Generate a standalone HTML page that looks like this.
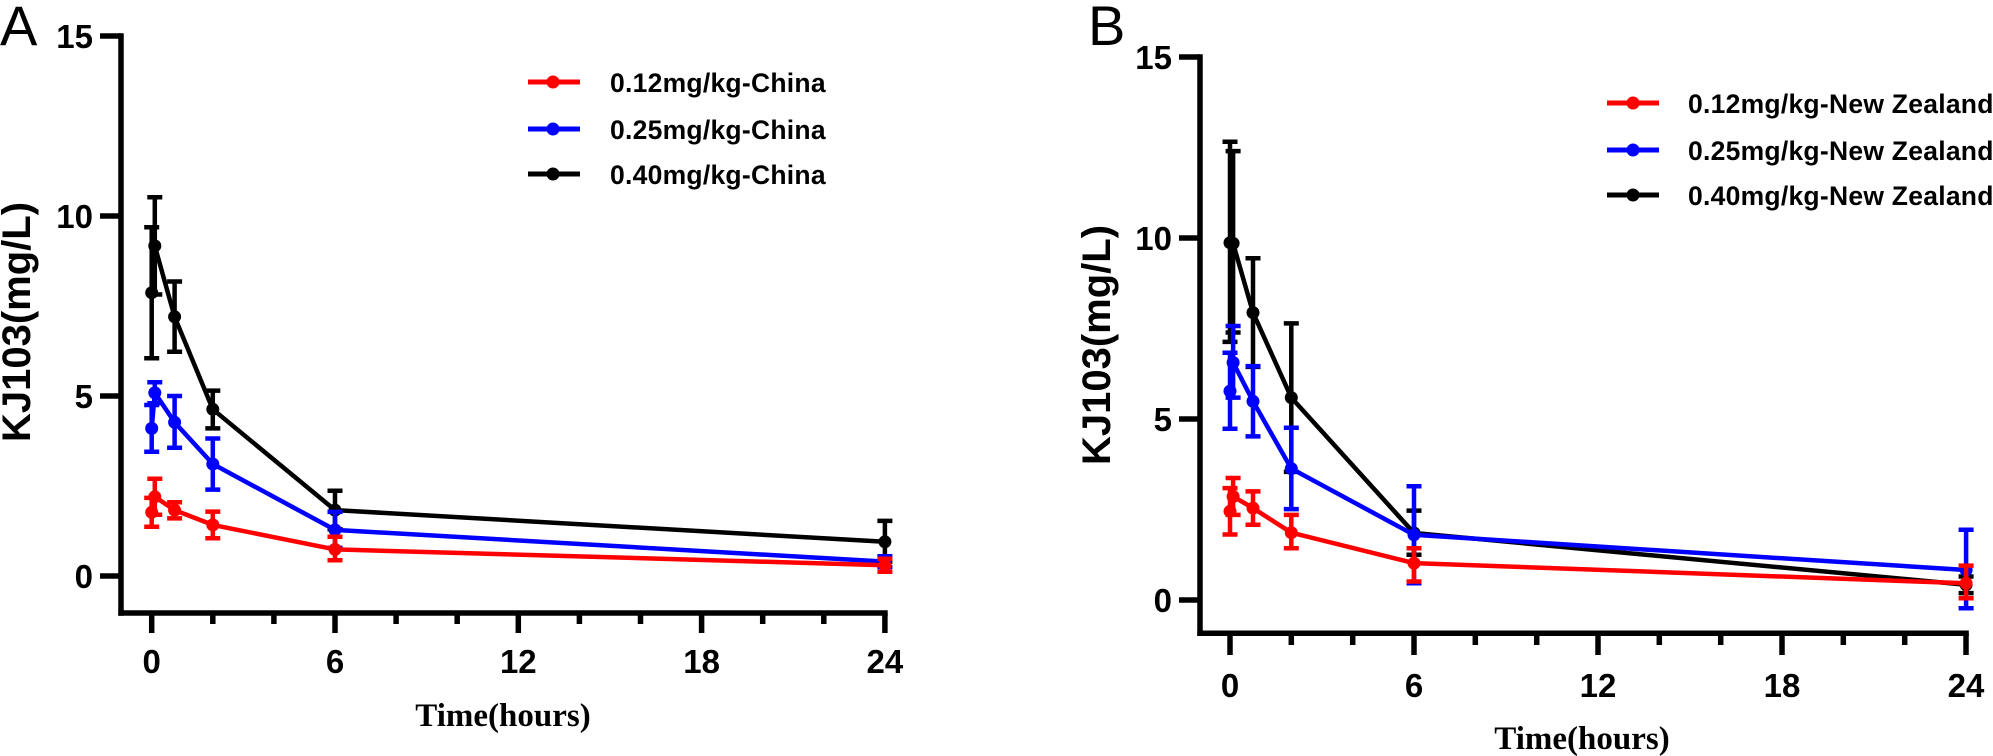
<!DOCTYPE html>
<html><head><meta charset="utf-8"><style>
html,body{margin:0;padding:0;background:#fff;}
svg{display:block;}
.t{font-family:"Liberation Sans",Arial,sans-serif;font-weight:bold;font-size:33px;fill:#000;}
.lg{font-family:"Liberation Sans",Arial,sans-serif;font-weight:bold;font-size:26.5px;letter-spacing:0.25px;fill:#000;}
.ti{font-family:"Liberation Serif","Times New Roman",serif;font-weight:bold;font-size:33px;fill:#000;}
.yl{font-family:"Liberation Sans",Arial,sans-serif;font-weight:bold;font-size:40px;fill:#000;}
.pl{font-family:"Liberation Sans",Arial,sans-serif;font-size:56px;fill:#000;}
</style></head><body>
<svg width="1993" height="756" viewBox="0 0 1993 756" xmlns="http://www.w3.org/2000/svg">
<rect width="1993" height="756" fill="#fff"/>

<!-- ================= PANEL A ================= -->
<text class="pl" x="0" y="45">A</text>
<g stroke="#000" stroke-width="5.5" fill="none">
<path d="M121 33.3V615.7"/>
<path d="M118.3 613H887.7"/>
<path d="M100 36H121M100 216H121M100 396H121M100 576H121"/>
<path d="M151.7 613V633M335 613V633M518.3 613V633M701.6 613V633M884.9 613V633"/>
<path d="M212.8 613V624M273.9 613V624M396.1 613V624M457.2 613V624M579.4 613V624M640.5 613V624M762.7 613V624M823.8 613V624"/>
</g>
<g class="t" text-anchor="end">
<text x="93" y="47.8">15</text>
<text x="93" y="227.8">10</text>
<text x="93" y="407.8">5</text>
<text x="93" y="587.8">0</text>
</g>
<g class="t" text-anchor="middle">
<text x="151.7" y="673">0</text>
<text x="335" y="673">6</text>
<text x="518.3" y="673">12</text>
<text x="701.6" y="673">18</text>
<text x="884.9" y="673">24</text>
</g>
<text class="ti" x="503" y="726" text-anchor="middle">Time(hours)</text>
<text class="yl" transform="translate(30,322) rotate(-90)" text-anchor="middle">KJ103(mg/L)</text>

<!-- black A -->
<g stroke="#000" fill="none">
<path stroke-width="4.5" d="M151.7 292.7L154.8 245.9L174.6 316.8L212.8 409.3L335 510.1L884.9 541.8"/>
<path stroke-width="4.5" d="M151.7 358.2V227.2M144.2 227.2h15M144.2 358.2h15
M154.8 294.5V197.3M147.3 197.3h15M147.3 294.5h15
M174.6 351.7V281.5M167.1 281.5h15M167.1 351.7h15
M212.8 428.4V390.6M205.3 390.6h15M205.3 428.4h15
M335 529.2V490.7M327.5 490.7h15M327.5 529.2h15
M884.9 561.6V520.9M877.4 520.9h15M877.4 561.6h15"/>
</g>
<g fill="#000">
<circle cx="151.7" cy="292.7" r="6.5"/><circle cx="154.8" cy="245.9" r="6.5"/><circle cx="174.6" cy="316.8" r="6.5"/><circle cx="212.8" cy="409.3" r="6.5"/><circle cx="335" cy="510.1" r="6.5"/><circle cx="884.9" cy="541.8" r="6.5"/>
</g>
<!-- blue A -->
<g stroke="#0000ff" fill="none">
<path stroke-width="4.5" d="M151.7 428.4L154.8 392.8L174.6 422.3L212.8 464L335 529.9L884.9 561.6"/>
<path stroke-width="4.5" d="M151.7 451.8V405M144.2 405h15M144.2 451.8h15
M154.8 403.2V382.3M147.3 382.3h15M147.3 403.2h15
M174.6 447.8V396M167.1 396h15M167.1 447.8h15
M212.8 489.6V438.5M205.3 438.5h15M205.3 489.6h15
M335 547.9V511.9M327.5 511.9h15M327.5 547.9h15
M884.9 567V556.2M877.4 556.2h15M877.4 567h15"/>
</g>
<g fill="#0000ff">
<circle cx="151.7" cy="428.4" r="6.5"/><circle cx="154.8" cy="392.8" r="6.5"/><circle cx="174.6" cy="422.3" r="6.5"/><circle cx="212.8" cy="464" r="6.5"/><circle cx="335" cy="529.9" r="6.5"/><circle cx="884.9" cy="561.6" r="6.5"/>
</g>
<!-- red A -->
<g stroke="#ff0000" fill="none">
<path stroke-width="4.5" d="M151.7 512.3L154.8 496.8L174.6 510.1L212.8 524.9L335 549.4L884.9 565.2"/>
<path stroke-width="4.5" d="M151.7 526.7V497.9M144.2 497.9h15M144.2 526.7h15
M154.8 514.8V478.8M147.3 478.8h15M147.3 514.8h15
M174.6 518.4V502.2M167.1 502.2h15M167.1 518.4h15
M212.8 538.2V511.6M205.3 511.6h15M205.3 538.2h15
M335 560.2V536.8M327.5 536.8h15M327.5 560.2h15
M884.9 571.7V558.7M877.4 558.7h15M877.4 571.7h15"/>
</g>
<g fill="#ff0000">
<circle cx="151.7" cy="512.3" r="6.5"/><circle cx="154.8" cy="496.8" r="6.5"/><circle cx="174.6" cy="510.1" r="6.5"/><circle cx="212.8" cy="524.9" r="6.5"/><circle cx="335" cy="549.4" r="6.5"/><circle cx="884.9" cy="565.2" r="6.5"/>
</g>

<!-- legend A -->
<g stroke-width="5">
<path d="M528 82H580" stroke="#ff0000"/><circle cx="553" cy="82" r="6.5" fill="#ff0000"/>
<path d="M528 129H580" stroke="#0000ff"/><circle cx="553" cy="129" r="6.5" fill="#0000ff"/>
<path d="M528 174H580" stroke="#000"/><circle cx="553" cy="174" r="6.5" fill="#000"/>
</g>
<text class="lg" x="610" y="92">0.12mg/kg-China</text>
<text class="lg" x="610" y="139">0.25mg/kg-China</text>
<text class="lg" x="610" y="184">0.40mg/kg-China</text>

<!-- ================= PANEL B ================= -->
<text class="pl" x="1088" y="45">B</text>
<g stroke="#000" stroke-width="5.5" fill="none">
<path d="M1200 54.3V636"/>
<path d="M1197.3 633.3H1968.8"/>
<path d="M1179 57H1200M1179 238H1200M1179 419H1200M1179 600H1200"/>
<path d="M1230 633V655M1414 633V655M1598 633V655M1782 633V655M1966 633V655"/>
<path d="M1291.3 633V645M1352.7 633V645M1475.3 633V645M1536.7 633V645M1659.3 633V645M1720.7 633V645M1843.3 633V645M1904.7 633V645"/>
</g>
<g class="t" text-anchor="end">
<text x="1172" y="68.8">15</text>
<text x="1172" y="249.8">10</text>
<text x="1172" y="430.8">5</text>
<text x="1172" y="611.8">0</text>
</g>
<g class="t" text-anchor="middle">
<text x="1230" y="697">0</text>
<text x="1414" y="697">6</text>
<text x="1598" y="697">12</text>
<text x="1782" y="697">18</text>
<text x="1966" y="697">24</text>
</g>
<text class="ti" x="1582" y="749" text-anchor="middle">Time(hours)</text>
<text class="yl" transform="translate(1110,345) rotate(-90)" text-anchor="middle">KJ103(mg/L)</text>

<!-- black B -->
<g stroke="#000" fill="none">
<path stroke-width="4.5" d="M1230 242.7L1233.1 243.4L1253 312.6L1291.3 397.6L1414 533L1966.1 584.8"/>
<path stroke-width="4.5" d="M1230 341.9V141.7M1222.5 141.7h15M1222.5 341.9h15
M1233.1 332.5V151.1M1225.6 151.1h15M1225.6 332.5h15
M1253 366.9V258.3M1245.5 258.3h15M1245.5 366.9h15
M1291.3 471.9V323.4M1283.8 323.4h15M1283.8 471.9h15
M1414 554.8V510.6M1406.5 510.6h15M1406.5 554.8h15
M1966.1 593.1V576.5M1958.6 576.5h15M1958.6 593.1h15"/>
</g>
<g fill="#000">
<circle cx="1230" cy="242.7" r="6.5"/><circle cx="1233.1" cy="243.4" r="6.5"/><circle cx="1253" cy="312.6" r="6.5"/><circle cx="1291.3" cy="397.6" r="6.5"/><circle cx="1414" cy="533" r="6.5"/><circle cx="1966.1" cy="584.8" r="6.5"/>
</g>
<!-- blue B -->
<g stroke="#0000ff" fill="none">
<path stroke-width="4.5" d="M1230 391.1L1233.1 362.5L1253 401.3L1291.3 468.6L1414 534.8L1966.1 570"/>
<path stroke-width="4.5" d="M1230 428.8V352.8M1222.5 352.8h15M1222.5 428.8h15
M1233.1 397.6V326M1225.6 326h15M1225.6 397.6h15
M1253 436.4V366.1M1245.5 366.1h15M1245.5 436.4h15
M1291.3 509.1V427.7M1283.8 427.7h15M1283.8 509.1h15
M1414 583.3V486.3M1406.5 486.3h15M1406.5 583.3h15
M1966.1 608.3V529.8M1958.6 529.8h15M1958.6 608.3h15"/>
</g>
<g fill="#0000ff">
<circle cx="1230" cy="391.1" r="6.5"/><circle cx="1233.1" cy="362.5" r="6.5"/><circle cx="1253" cy="401.3" r="6.5"/><circle cx="1291.3" cy="468.6" r="6.5"/><circle cx="1414" cy="534.8" r="6.5"/><circle cx="1966.1" cy="570" r="6.5"/>
</g>
<!-- red B -->
<g stroke="#ff0000" fill="none">
<path stroke-width="4.5" d="M1230 511.3L1233.1 496.5L1253 508.1L1291.3 532.7L1414 563.1L1966.1 583.3"/>
<path stroke-width="4.5" d="M1230 534.5V488.1M1222.5 488.1h15M1222.5 534.5h15
M1233.1 514.9V478M1225.6 478h15M1225.6 514.9h15
M1253 524.7V491.4M1245.5 491.4h15M1245.5 524.7h15
M1291.3 548.2V514.9M1283.8 514.9h15M1283.8 548.2h15
M1414 581.5V548.2M1406.5 548.2h15M1406.5 581.5h15
M1966.1 598.2V565.6M1958.6 565.6h15M1958.6 598.2h15"/>
</g>
<g fill="#ff0000">
<circle cx="1230" cy="511.3" r="6.5"/><circle cx="1233.1" cy="496.5" r="6.5"/><circle cx="1253" cy="508.1" r="6.5"/><circle cx="1291.3" cy="532.7" r="6.5"/><circle cx="1414" cy="563.1" r="6.5"/><circle cx="1966.1" cy="583.3" r="6.5"/>
</g>

<!-- legend B -->
<g stroke-width="5">
<path d="M1607 103H1659" stroke="#ff0000"/><circle cx="1633" cy="103" r="6.5" fill="#ff0000"/>
<path d="M1607 150H1659" stroke="#0000ff"/><circle cx="1633" cy="150" r="6.5" fill="#0000ff"/>
<path d="M1607 195H1659" stroke="#000"/><circle cx="1633" cy="195" r="6.5" fill="#000"/>
</g>
<text class="lg" x="1688" y="113">0.12mg/kg-New Zealand</text>
<text class="lg" x="1688" y="160">0.25mg/kg-New Zealand</text>
<text class="lg" x="1688" y="205">0.40mg/kg-New Zealand</text>
</svg>
</body></html>
